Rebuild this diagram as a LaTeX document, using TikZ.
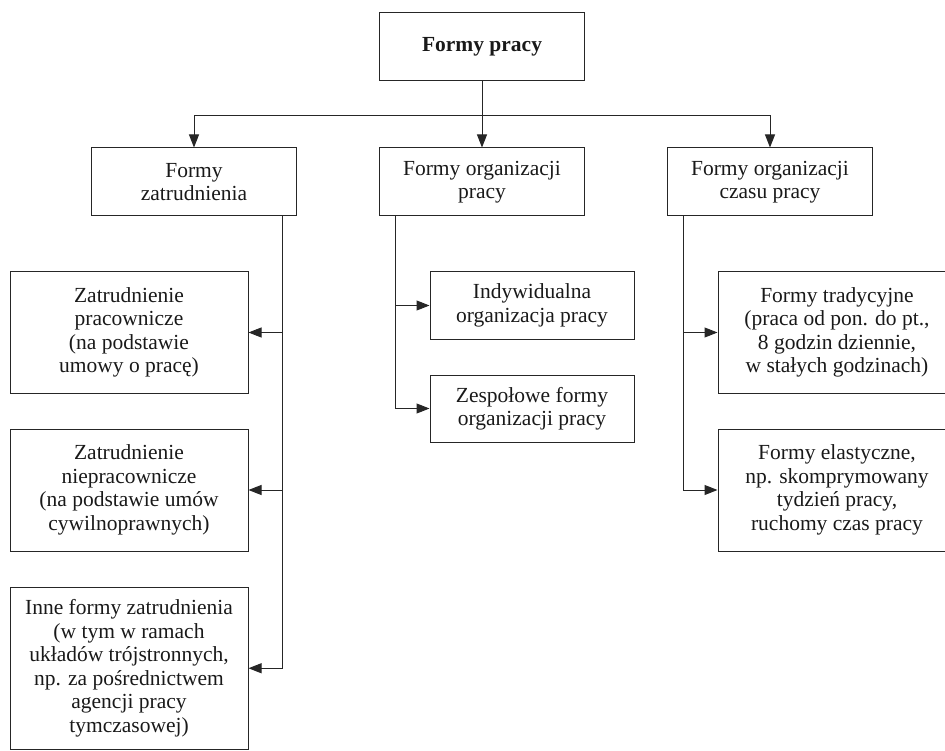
\documentclass[tikz,border=0pt]{standalone}
\usepackage{fontspec}
\setmainfont{Liberation Serif}
\usetikzlibrary{arrows.meta}
\tikzset{
  box/.style={draw=black!85, line width=1pt, fill=none, inner sep=0pt, align=center,
    font=\fontsize{21.5}{23.5}\selectfont, text=black!90},
  rowbox/.style={box, minimum width=205pt, minimum height=68pt},
  sidebox/.style={box, minimum width=238pt, minimum height=121pt},
  midbox/.style={box, minimum width=204pt, minimum height=67pt},
  conn/.style={draw=black!85, line width=1pt},
  arr/.style={conn, -{Triangle[length=13pt,width=10pt]}}
}
\begin{document}
\begin{tikzpicture}[x=1pt,y=-1pt]
\useasboundingbox (0,0) rectangle (945,751);
\clip (0,0) rectangle (945,751);
% top
\node[rowbox, font=\fontsize{21.5}{23.5}\selectfont\bfseries] (top) at (482,47) {Formy pracy};
% row
\node[rowbox] (a) at (194,182) {Formy\\zatrudnienia};
\node[rowbox] (b) at (482,182) {Formy organizacji\\pracy};
\node[rowbox] (c) at (770,182) {Formy organizacji\\czasu pracy};
% left column
\node[sidebox] (L1) at (129,332.5) {Zatrudnienie\\pracownicze\\(na podstawie\\umowy o pracę)};
\node[sidebox, minimum height=122pt] (L2) at (129,490) {Zatrudnienie\\niepracownicze\\(na podstawie umów\\cywilnoprawnych)};
\node[sidebox, minimum height=162.5pt] (L3) at (129,668.25) {Inne formy zatrudnienia\\(w tym w ramach\\układów trójstronnych,\\np. za pośrednictwem\\agencji pracy\\tymczasowej)};
% middle column
\node[midbox] (M1) at (532,305.5) {Indywidualna\\organizacja pracy};
\node[midbox] (M2) at (532,408.5) {Zespołowe formy\\organizacji pracy};
% right column
\node[sidebox] (R1) at (837,332.5) {Formy tradycyjne\\(praca od pon. do pt.,\\8 godzin dziennie,\\w stałych godzinach)};
\node[sidebox, minimum height=122pt] (R2) at (837,490) {Formy elastyczne,\\np. skomprymowany\\tydzień pracy,\\ruchomy czas pracy};
% top connectors
\draw[conn] (top.south) -- ++(0,34) coordinate (hub);
\draw[conn] (a.north |- hub) -- (c.north |- hub);
\draw[arr] (a.north |- hub) -- (a.north);
\draw[arr] (hub) -- (b.north);
\draw[arr] (c.north |- hub) -- (c.north);
% left branch
\draw[arr] ([xshift=-15pt]a.south east) |- (L1.east);
\draw[arr] ([xshift=-15pt]a.south east) |- (L2.east);
\draw[arr] ([xshift=-15pt]a.south east) |- (L3.east);
% middle branch
\draw[arr] ([xshift=16pt]b.south west) |- (M1.west);
\draw[arr] ([xshift=16pt]b.south west) |- (M2.west);
% right branch
\draw[arr] ([xshift=16pt]c.south west) |- (R1.west);
\draw[arr] ([xshift=16pt]c.south west) |- (R2.west);
\end{tikzpicture}
\end{document}
